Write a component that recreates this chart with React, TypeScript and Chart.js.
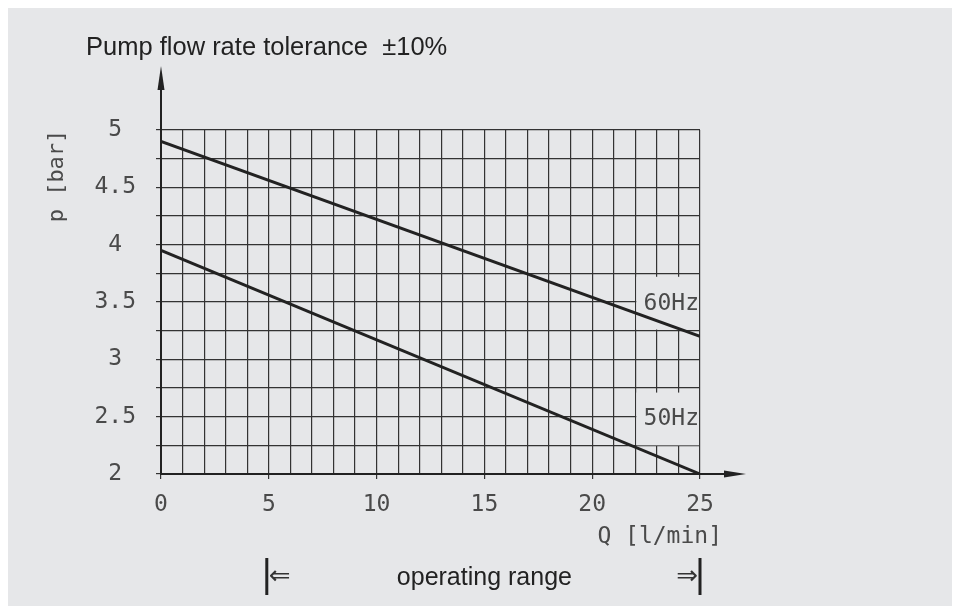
import React, { useEffect, useRef } from "react";
import { Chart, registerables } from "chart.js";
Chart.register(...registerables);

const flowQ = [0, 25];
const pressure60Hz = [4.9, 3.2];
const pressure50Hz = [3.95, 2.0];
const seriesNames = ["60Hz", "50Hz"];
const seriesLabelP = [3.5, 2.5];
const xTickLabels = [0, 5, 10, 15, 20, 25];
const yTickLabels = [2, 2.5, 3, 3.5, 4, 4.5, 5];
const rangeStart = 5;
const rangeEnd = 25;

const BG = "#e6e7e9";
const GRID = "#333";
const INK = "#222";
const LABEL = "#4a4a4a";
const MONO = "'DejaVu Sans Mono', monospace";
const SANS = "'Liberation Sans', Arial, sans-serif";

const decor = {
  id: "decor",
  beforeDatasetsDraw(chart: any) {
    const { ctx, scales } = chart;
    const x = scales.x, y = scales.y;
    ctx.save();
    const boxes = [
      [3.72, 3.26],
      [2.71, 2.25],
    ];
    ctx.fillStyle = BG;
    boxes.forEach(([a, b]) => {
      const l = x.getPixelForValue(22) + 1;
      const r = x.getPixelForValue(25) - 1;
      const t = y.getPixelForValue(a);
      const bt = y.getPixelForValue(b);
      ctx.fillRect(l, t, r - l, bt - t);
    });
    ctx.fillStyle = LABEL;
    ctx.font = `23px ${MONO}`;
    ctx.textAlign = "right";
    ctx.textBaseline = "middle";
    seriesNames.forEach((n, i) => {
      ctx.fillText(n, x.getPixelForValue(25) - 1, y.getPixelForValue(seriesLabelP[i]) + 2);
    });
    ctx.restore();
  },
  afterDraw(chart: any) {
    const { ctx, scales } = chart;
    const x = scales.x, y = scales.y;
    const x0 = x.getPixelForValue(0);
    const y0 = y.getPixelForValue(2);
    const yTop = y.getPixelForValue(5);
    const xEnd = x.getPixelForValue(25);
    ctx.save();
    ctx.strokeStyle = INK;
    ctx.fillStyle = INK;
    ctx.lineWidth = 2;
    ctx.beginPath();
    ctx.moveTo(x0, yTop);
    ctx.lineTo(x0, yTop - 50);
    ctx.stroke();
    ctx.beginPath();
    ctx.moveTo(x0, yTop - 64);
    ctx.lineTo(x0 + 3.5, yTop - 40);
    ctx.lineTo(x0 - 3.5, yTop - 40);
    ctx.closePath();
    ctx.fill();
    ctx.beginPath();
    ctx.moveTo(xEnd, y0);
    ctx.lineTo(xEnd + 30, y0);
    ctx.stroke();
    ctx.beginPath();
    ctx.moveTo(xEnd + 46, y0);
    ctx.lineTo(xEnd + 24, y0 - 3.5);
    ctx.lineTo(xEnd + 24, y0 + 3.5);
    ctx.closePath();
    ctx.fill();

    ctx.fillStyle = LABEL;
    ctx.font = `22px ${MONO}`;
    ctx.textBaseline = "middle";
    ctx.textAlign = "center";
    ctx.save();
    ctx.translate(49, 168);
    ctx.rotate(-Math.PI / 2);
    ctx.fillText("p [bar]", 0, 0);
    ctx.restore();
    ctx.font = `23px ${MONO}`;
    ctx.textAlign = "right";
    ctx.fillText("Q [l/min]", xEnd + 22, 529);

    ctx.fillStyle = INK;
    ctx.font = `25.5px ${SANS}`;
    ctx.textAlign = "left";
    ctx.textBaseline = "alphabetic";
    ctx.fillText("Pump flow rate tolerance  \u00b110%", 78, 47);

    const xs = x.getPixelForValue(rangeStart) - 2;
    const xe = x.getPixelForValue(rangeEnd);
    ctx.lineWidth = 3;
    ctx.beginPath();
    ctx.moveTo(xs, 550);
    ctx.lineTo(xs, 587);
    ctx.moveTo(xe, 550);
    ctx.lineTo(xe, 587);
    ctx.stroke();
    ctx.font = `25px ${SANS}`;
    ctx.textAlign = "center";
    ctx.fillText("operating range", x.getPixelForValue((rangeStart + rangeEnd) / 2), 577);
    ctx.fillStyle = "#333";
    ctx.font = `26px 'DejaVu Sans'`;
    ctx.textBaseline = "middle";
    ctx.textAlign = "left";
    ctx.fillText("\u21d0", xs + 2, 569);
    ctx.textAlign = "right";
    ctx.fillText("\u21d2", xe - 2, 569);
    ctx.restore();
  },
};

export default function App() {
  const ref = useRef<HTMLCanvasElement>(null);
  useEffect(() => {
    if (!ref.current) return;
    const chart = new Chart(ref.current, {
      type: "line",
      data: {
        datasets: [
          {
            label: seriesNames[0],
            data: flowQ.map((q, i) => ({ x: q, y: pressure60Hz[i] })),
            borderColor: INK,
            borderWidth: 3,
            pointRadius: 0,
          },
          {
            label: seriesNames[1],
            data: flowQ.map((q, i) => ({ x: q, y: pressure50Hz[i] })),
            borderColor: INK,
            borderWidth: 3,
            pointRadius: 0,
          },
        ],
      },
      options: {
        animation: false,
        responsive: false,
        maintainAspectRatio: false,
        layout: { padding: { top: 122, right: 256, left: 0, bottom: 0 } },
        plugins: { legend: { display: false }, tooltip: { enabled: false }, title: { display: false } },
        scales: {
          x: {
            type: "linear",
            min: 0,
            max: 25,
            afterFit: (s: any) => { s.height = 132; },
            border: { display: true, width: 2, color: INK },
            grid: {
              color: GRID,
              lineWidth: 1.2,
              tickLength: 5,
              tickColor: (c: any) => (c.tick && xTickLabels.includes(c.tick.value) ? GRID : "rgba(0,0,0,0)"),
            },
            ticks: {
              stepSize: 1,
              autoSkip: false,
              maxRotation: 0,
              padding: 12,
              color: LABEL,
              font: { family: "DejaVu Sans Mono", size: 23 },
              callback: (v: any) => (xTickLabels.includes(v) ? String(v) : ""),
            },
          },
          y: {
            type: "linear",
            min: 2,
            max: 5,
            afterFit: (s: any) => { s.width = 153; },
            border: { display: true, width: 2, color: INK },
            grid: { color: GRID, lineWidth: 1.2, tickLength: 5, tickColor: GRID },
            ticks: {
              stepSize: 0.25,
              autoSkip: false,
              crossAlign: "center",
              padding: 20,
              color: LABEL,
              font: { family: "DejaVu Sans Mono", size: 23 },
              callback: (v: any) => (yTickLabels.includes(v) ? String(v) : ""),
            },
          },
        },
      },
      plugins: [decor],
    });
    return () => chart.destroy();
  }, []);
  return (
    <div style={{ width: 948, height: 598, background: BG }}>
      <canvas ref={ref} width={948} height={598} style={{ display: "block" }} />
    </div>
  );
}
